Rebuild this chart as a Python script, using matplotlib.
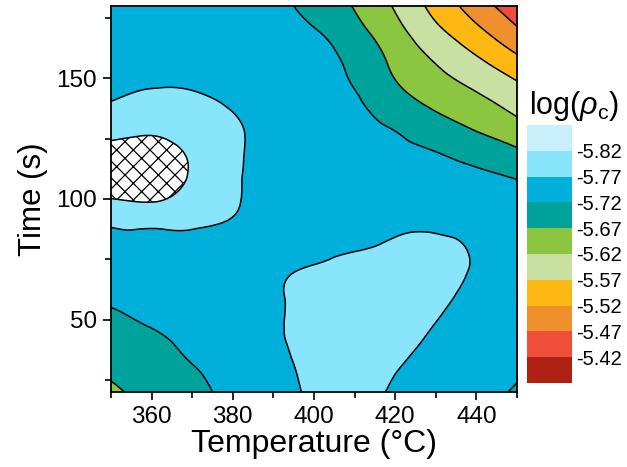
import numpy as np
import matplotlib
matplotlib.use("Agg")
import matplotlib.pyplot as plt
import matplotlib.tri as mtri
from matplotlib.colors import ListedColormap, BoundaryNorm
from matplotlib.ticker import MultipleLocator
import matplotlib.colorbar as mcolorbar

plt.rcParams['font.family'] = ['Liberation Sans', 'DejaVu Sans']
plt.rcParams['mathtext.fontset'] = 'custom'
plt.rcParams['mathtext.rm'] = 'Liberation Sans'
plt.rcParams['mathtext.it'] = 'Liberation Sans:italic'
plt.rcParams['axes.unicode_minus'] = False
plt.rcParams['hatch.color'] = 'black'
plt.rcParams['hatch.linewidth'] = 0.9
plt.rcParams['contour.negative_linestyle'] = 'solid'

# ---- data -------------------------------------------------------------
temperature = [350, 360, 370, 380, 390, 400, 410, 420, 430, 440, 450]
time_s = [20, 30, 40, 50, 60, 70, 80, 90, 100, 110, 120, 130, 140, 150, 160, 170, 180]

row_020 = [-5.661, -5.686, -5.706, -5.733, -5.754, -5.777, -5.785, -5.764, -5.748, -5.732, -5.717]
row_030 = [-5.680, -5.700, -5.718, -5.738, -5.758, -5.780, -5.787, -5.772, -5.757, -5.741, -5.725]
row_040 = [-5.695, -5.711, -5.728, -5.746, -5.764, -5.782, -5.790, -5.779, -5.764, -5.748, -5.733]
row_050 = [-5.712, -5.725, -5.735, -5.748, -5.765, -5.782, -5.792, -5.786, -5.771, -5.752, -5.738]
row_060 = [-5.727, -5.735, -5.745, -5.755, -5.766, -5.780, -5.790, -5.789, -5.780, -5.758, -5.742]
row_070 = [-5.743, -5.748, -5.752, -5.757, -5.764, -5.774, -5.786, -5.789, -5.783, -5.766, -5.748]
row_080 = [-5.760, -5.763, -5.762, -5.760, -5.758, -5.761, -5.767, -5.776, -5.778, -5.766, -5.752]
row_090 = [-5.774, -5.777, -5.775, -5.768, -5.762, -5.761, -5.762, -5.762, -5.762, -5.755, -5.742]
row_100 = [-5.819, -5.826, -5.800, -5.774, -5.760, -5.755, -5.752, -5.750, -5.745, -5.737, -5.728]
row_110 = [-5.835, -5.840, -5.816, -5.777, -5.758, -5.750, -5.745, -5.742, -5.737, -5.727, -5.716]
row_120 = [-5.827, -5.832, -5.813, -5.778, -5.758, -5.748, -5.740, -5.730, -5.719, -5.698, -5.676]
row_130 = [-5.805, -5.810, -5.797, -5.776, -5.755, -5.740, -5.728, -5.717, -5.690, -5.664, -5.635]
row_140 = [-5.771, -5.782, -5.779, -5.765, -5.750, -5.736, -5.725, -5.693, -5.658, -5.633, -5.600]
row_150 = [-5.760, -5.764, -5.762, -5.755, -5.745, -5.735, -5.715, -5.669, -5.632, -5.603, -5.566]
row_160 = [-5.752, -5.754, -5.752, -5.748, -5.740, -5.732, -5.705, -5.655, -5.610, -5.568, -5.520]
row_170 = [-5.748, -5.748, -5.746, -5.742, -5.733, -5.722, -5.685, -5.635, -5.580, -5.530, -5.476]
row_180 = [-5.745, -5.745, -5.744, -5.740, -5.735, -5.702, -5.667, -5.615, -5.554, -5.495, -5.440]

log_rho_rows = [row_020, row_030, row_040, row_050, row_060, row_070, row_080, row_090,
                row_100, row_110, row_120, row_130, row_140, row_150, row_160, row_170, row_180]

level_bounds = [-5.87, -5.82, -5.77, -5.72, -5.67, -5.62, -5.57, -5.52, -5.47, -5.42, -5.37]
level_colors = ['#C8F0FC', '#88E5FC', '#00B0DB', '#00A39C', '#8CC540',
                '#C8E1A2', '#FDB813', '#F0902C', '#EF4F39', '#AE2112']
tick_labels = ['-5.82', '-5.77', '-5.72', '-5.67', '-5.62', '-5.57', '-5.52', '-5.47', '-5.42']

# ---- figure -----------------------------------------------------------
fig = plt.figure(figsize=(6.27, 4.67), dpi=100)
ax = fig.add_axes([0.177, 0.1606, 0.6475, 0.8266])

X, Y = np.meshgrid(temperature, time_s)
Z = np.array(log_rho_rows)

# smooth rendering of the gridded surface via matplotlib's triangulation refiner
# (work in a normalised space so the cubic refiner treats both axes evenly)
xs = (X.ravel() - 350.0) / 10.0
ys = (Y.ravel() - 20.0) / 10.0
tri = mtri.Triangulation(xs, ys)
refiner = mtri.UniformTriRefiner(tri)
tri_f, z_f = refiner.refine_field(Z.ravel(), subdiv=3)
tri_plot = mtri.Triangulation(tri_f.x * 10.0 + 350.0, tri_f.y * 10.0 + 20.0, tri_f.triangles)

fill_levels = [-6.2] + level_bounds[1:]
fill_colors = ['white'] + level_colors[1:]
fill_hatches = ['xx'] + [None] * (len(fill_colors) - 1)
ax.tricontourf(tri_plot, z_f, levels=fill_levels, colors=fill_colors, hatches=fill_hatches)
ax.tricontour(tri_plot, z_f, levels=level_bounds[1:-1], colors='black',
              linewidths=1.1, linestyles='solid')

ax.set_xlim(350, 450)
ax.set_ylim(20, 180)
ax.set_xticks([360, 380, 400, 420, 440])
ax.xaxis.set_minor_locator(MultipleLocator(10))
ax.yaxis.set_major_locator(MultipleLocator(50))
ax.yaxis.set_minor_locator(MultipleLocator(25))
ax.tick_params(which='major', direction='out', length=6, width=1.2, labelsize=17.5, pad=4)
ax.tick_params(which='minor', direction='out', length=4, width=1.2)
ax.tick_params(top=False, right=False, which='both')
for s in ax.spines.values():
    s.set_linewidth(1.3)
    s.set_zorder(5)
ax.set_xlabel('Temperature (°C)', fontsize=23, labelpad=1)
ax.set_ylabel('Time (s)', fontsize=22.5, labelpad=6)

# ---- colorbar ---------------------------------------------------------
cax = fig.add_axes([0.8405, 0.180, 0.0718, 0.5525])
cmap = ListedColormap(level_colors)
norm = BoundaryNorm(level_bounds, cmap.N)
cb = mcolorbar.ColorbarBase(cax, cmap=cmap, norm=norm, orientation='vertical',
                            ticks=level_bounds[1:-1], spacing='uniform')
cb.outline.set_visible(False)
cax.minorticks_off()
cax.invert_yaxis()
cb.set_ticks(level_bounds[1:-1])
cb.set_ticklabels(tick_labels)
cax.tick_params(which='both', length=0, labelsize=14.5, pad=3)
fig.text(0.915, 0.737, r'log($\rho_{\rm c}$)', fontsize=22, ha='center', va='bottom')

fig.savefig('out.png', dpi=100)
